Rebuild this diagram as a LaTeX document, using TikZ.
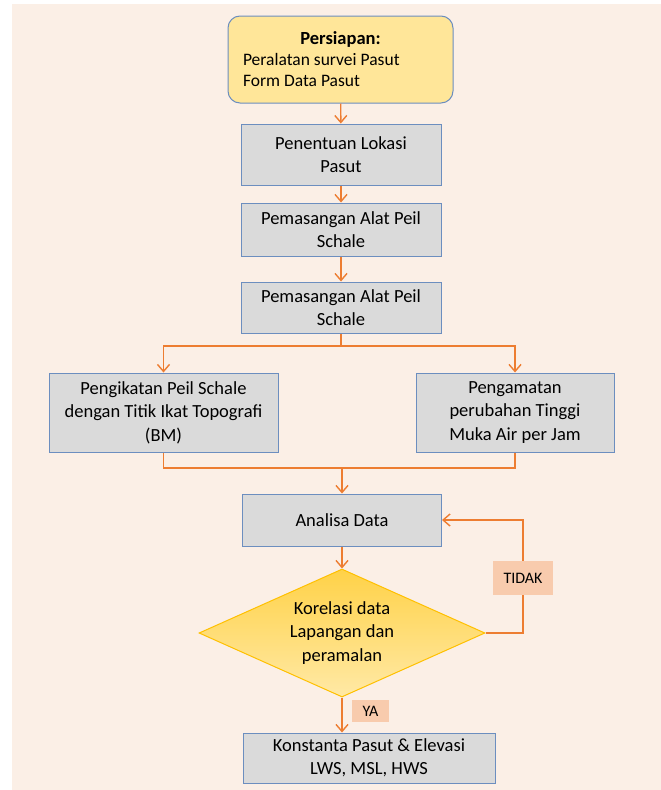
\documentclass[tikz,border=0pt]{standalone}
\usepackage{fontspec}
\setmainfont{Carlito}
\usetikzlibrary{shapes.geometric,arrows.meta}

\definecolor{bgpeach}{HTML}{FBEFE6}
\definecolor{boxgray}{HTML}{DADADA}
\definecolor{boxblue}{HTML}{6C8EBF}
\definecolor{prepyellow}{HTML}{FFE699}
\definecolor{decgold}{HTML}{FFC000}
\definecolor{flow}{HTML}{ED7D31}
\definecolor{tagpeach}{HTML}{F8CBAD}

\begin{document}
\begin{tikzpicture}[
        x=1pt, y=-1pt,
        item/.style={rectangle, draw=boxblue, fill=boxgray, line width=1pt,
            align=center, inner sep=0pt,
            font=\fontsize{18.5}{23.5}\selectfont},
        prep/.style={rectangle, rounded corners=12pt, draw=boxblue, fill=prepyellow,
            line width=1pt, align=flush left, text width=195pt, inner sep=0pt,
            minimum width=225pt, minimum height=87pt,
            font=\fontsize{17.5}{21}\selectfont},
        decision/.style={diamond, aspect=2.23, draw=decgold, line width=1pt,
            top color=decgold!72, bottom color=decgold!35, align=center,
            inner sep=0pt, font=\fontsize{18.5}{23.5}\selectfont},
        tag/.style={rectangle, fill=tagpeach, inner sep=0pt,
            font=\fontsize{16}{19}\selectfont},
        >={Straight Barb[length=7pt,width=12pt]}
    ]
    \useasboundingbox (0,0) rectangle (661,790);
    \fill[bgpeach] (12,4) rectangle (661,790);

    % preparation and setup steps
    \node[prep] (prep) at (340.5,59.5)
        {\makebox[195pt]{\fontsize{18.5}{21}\selectfont\bfseries Persiapan:}\\
         Peralatan survei Pasut\\Form Data Pasut};
    \node[item, minimum width=200pt, minimum height=61pt] (lokasi) at (341,154.5)
        {Penentuan Lokasi\\Pasut};
    \node[item, minimum width=200pt, minimum height=53pt] (pasang1) at (341,229.5)
        {Pemasangan Alat Peil\\Schale};
    \node[item, minimum width=200pt, minimum height=51pt] (pasang2) at (341,307.5)
        {Pemasangan Alat Peil\\Schale};

    % two parallel branches
    \node[item, minimum width=229pt, minimum height=79pt] (ikat) at (163.5,412.5)
        {Pengikatan Peil Schale\\dengan Titik Ikat Topografi\\(BM)};
    \node[item, minimum width=198pt, minimum height=79pt] (amat) at (515,412.5)
        {Pengamatan\\perubahan Tinggi\\Muka Air per Jam};
    \coordinate (split) at (341,346);
    \coordinate (merge) at (342,468);

    % analysis and check
    \node[item, minimum width=199pt, minimum height=52pt] (analisa) at (342,520)
        {Analisa Data};
    \node[decision, minimum width=286pt, minimum height=128pt] (korelasi) at (342,633)
        {Korelasi data\\Lapangan dan\\peramalan};
    \coordinate (loop) at (523,633);
    \node[item, minimum width=252pt, minimum height=50pt] (konstanta) at (369,758)
        {Konstanta Pasut \& Elevasi\\LWS, MSL, HWS};

    \begin{scope}[draw=flow, line width=1.4pt]
        \draw[->] (prep) -- (lokasi);
        \draw[->] (lokasi) -- (pasang1);
        \draw[->] (pasang1) -- (pasang2);
        \draw (pasang2) -- (split);
        \draw[->] (split) -| (ikat);
        \draw[->] (split) -| (amat);
        \draw (ikat) |- (merge);
        \draw (amat) |- (merge);
        \draw[->] (merge) -- (analisa);
        \draw[->] (analisa) -- (korelasi);
        % back to analysis when the check fails
        \draw[->] (korelasi.east) -- (loop) |- (analisa.east);
        \draw[->] (korelasi.south) -- (korelasi.south |- konstanta.north);
    \end{scope}

    % branch labels
    \node[tag, minimum width=60pt, minimum height=34pt] (tidak) at (523,578) {TIDAK};
    \node[tag, minimum width=37pt, minimum height=22pt] (ya) at (370.5,711) {YA};
\end{tikzpicture}
\end{document}
